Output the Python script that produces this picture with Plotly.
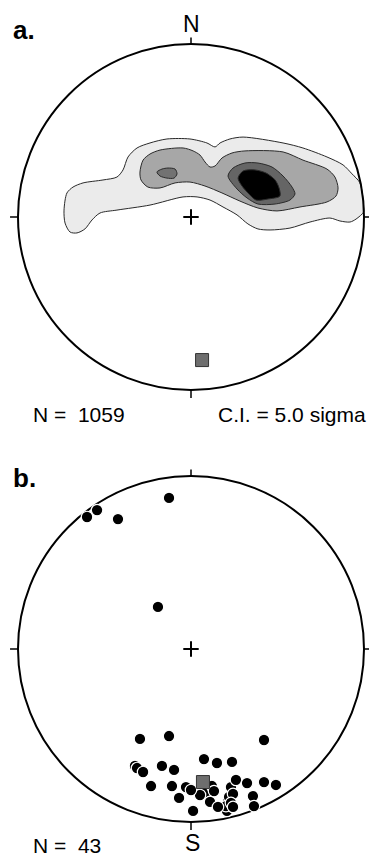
import plotly.graph_objects as go

# ---------------- Panel a: density contours (projected, unit primitive circle) ----------------
outer_x = [-0.734, -0.717, -0.682, -0.624, -0.509, -0.428, -0.393, -0.364, -0.312, -0.237, -0.139, -0.006,
           0.092, 0.139, 0.168, 0.225, 0.301, 0.532, 0.647, 0.786, 0.879, 0.931, 0.975, 0.992, 0.998, 0.999,
           0.954, 0.919, 0.861, 0.803, 0.688, 0.572, 0.457, 0.387, 0.329, 0.266, 0.185, 0.110, 0.035, -0.046,
           -0.237, -0.428, -0.526, -0.572, -0.613, -0.659, -0.699, -0.728]
outer_y = [0.040, 0.139, 0.173, 0.197, 0.214, 0.231, 0.272, 0.347, 0.399, 0.428, 0.451, 0.451,
           0.428, 0.405, 0.428, 0.451, 0.462, 0.428, 0.399, 0.347, 0.301, 0.249, 0.200, 0.125, 0.060, 0.030,
           -0.012, -0.029, -0.023, -0.006, -0.029, -0.064, -0.075, -0.069, -0.040, 0.012, 0.058, 0.098, 0.116, 0.116,
           0.069, 0.040, 0.023, -0.017, -0.069, -0.092, -0.087, -0.035]

mid_x = [-0.295, -0.277, -0.237, -0.179, -0.046, 0.012, 0.052, 0.081, 0.110, 0.139, 0.179, 0.237, 0.312,
         0.532, 0.647, 0.786, 0.832, 0.850, 0.838, 0.786, 0.630, 0.497, 0.387, 0.283, 0.179, 0.081, -0.006,
         -0.092, -0.179, -0.249, -0.289]
mid_y = [0.260, 0.329, 0.364, 0.387, 0.399, 0.382, 0.358, 0.318, 0.289, 0.295, 0.341, 0.370, 0.382,
         0.376, 0.329, 0.277, 0.231, 0.168, 0.121, 0.087, 0.058, 0.035, 0.052, 0.092, 0.139, 0.179, 0.202,
         0.197, 0.168, 0.173, 0.214]

island_x = [-0.197, -0.168, -0.133, -0.092, -0.081, -0.098, -0.139, -0.179]
island_y = [0.260, 0.277, 0.283, 0.277, 0.249, 0.225, 0.225, 0.237]

high_x = [0.214, 0.243, 0.312, 0.387, 0.468, 0.532, 0.584, 0.601, 0.572, 0.486, 0.387, 0.324, 0.266]
high_y = [0.237, 0.283, 0.312, 0.312, 0.289, 0.237, 0.173, 0.133, 0.098, 0.075, 0.075, 0.110, 0.162]

core_x = [0.272, 0.301, 0.370, 0.434, 0.486, 0.509, 0.514, 0.445, 0.376, 0.335, 0.295]
core_y = [0.225, 0.266, 0.272, 0.254, 0.214, 0.168, 0.121, 0.104, 0.098, 0.133, 0.179]

mean_a = (0.064, -0.827)
n_a = 1059
ci_text = "C.I. = 5.0 sigma"

# ---------------- Panel b: individual poles ----------------
pts_x = [-0.017, -0.029, 0.087, 0.231, 0.214, 0.208, 0.121, 0.220, 0.202, 0.052, -0.324, -0.312,
         -0.127, -0.543, -0.601, -0.422, -0.191, -0.295, -0.127, 0.422, -0.277, -0.168, -0.098,
         0.075, 0.150, 0.237, -0.231, -0.110, -0.069, 0.000, 0.012, 0.133, 0.110, 0.156, 0.260,
         0.324, 0.422, 0.491, 0.243, 0.231, 0.243, 0.358, 0.364]
pts_y = [-0.803, -0.798, -0.827, -0.798, -0.873, -0.936, -0.792, -0.855, -0.908, -0.844, -0.676, -0.688,
         0.873, 0.803, 0.763, 0.751, 0.243, -0.520, -0.503, -0.526, -0.711, -0.676, -0.699,
         -0.636, -0.659, -0.653, -0.792, -0.792, -0.861, -0.815, -0.936, -0.821, -0.884, -0.913, -0.757,
         -0.775, -0.769, -0.786, -0.838, -0.890, -0.913, -0.850, -0.908]
mean_b = (0.069, -0.769)
n_b = 43

FONT = "Liberation Sans, Arial, Helvetica, sans-serif"
W, H = 369, 858
CX, R = 191, 173  # pixel scale: 173 px per unit

fig = go.Figure()

def poly(xs, ys, color, xa, ya):
    fig.add_trace(go.Scatter(x=xs + [xs[0]], y=ys + [ys[0]], mode="lines", fill="toself",
                             fillcolor=color, line=dict(color="#2a2a2a", width=1, shape="spline", smoothing=0.8),
                             xaxis=xa, yaxis=ya, hoverinfo="skip", showlegend=False))

poly(outer_x, outer_y, "#ebebeb", "x", "y")
poly(mid_x, mid_y, "#a7a7a7", "x", "y")
poly(island_x, island_y, "#727272", "x", "y")
poly(high_x, high_y, "#656565", "x", "y")
poly(core_x, core_y, "#000000", "x", "y")

for xa, ya in (("x", "y"), ("x2", "y2")):
    fig.add_trace(go.Scatter(x=[0], y=[0], mode="markers", xaxis=xa, yaxis=ya,
                             marker=dict(symbol="cross-thin", size=11, line=dict(color="black", width=2)),
                             hoverinfo="skip", showlegend=False))

fig.add_trace(go.Scatter(x=[mean_a[0]], y=[mean_a[1]], mode="markers", xaxis="x", yaxis="y",
                         marker=dict(symbol="square", size=13, color="#6e6e6e", line=dict(color="#333333", width=1)),
                         hoverinfo="skip", showlegend=False))

fig.add_trace(go.Scatter(x=pts_x, y=pts_y, mode="markers", xaxis="x2", yaxis="y2",
                         marker=dict(symbol="circle", size=11.5, color="black", line=dict(color="white", width=1.2)),
                         hoverinfo="skip", showlegend=False))
fig.add_trace(go.Scatter(x=[mean_b[0]], y=[mean_b[1]], mode="markers", xaxis="x2", yaxis="y2",
                         marker=dict(symbol="square", size=13, color="#6e6e6e", line=dict(color="#333333", width=1)),
                         hoverinfo="skip", showlegend=False))

shapes = []
for xr, yr, layer in (("x", "y", "above"), ("x2", "y2", "below")):
    shapes.append(dict(type="circle", xref=xr, yref=yr, x0=-1, x1=1, y0=-1, y1=1,
                       line=dict(color="black", width=2), layer=layer))
    for (x0, y0, x1, y1) in ((0, 1, 0, 1.037), (0, -1, 0, -1.046), (-1, 0, -1.046, 0), (1, 0, 1.037, 0)):
        shapes.append(dict(type="line", xref=xr, yref=yr, x0=x0, y0=y0, x1=x1, y1=y1,
                           line=dict(color="black", width=1.5), layer=layer))

xr = [-CX / R, (W - CX) / R]
fig.update_layout(
    width=W, height=H, margin=dict(l=0, r=0, t=0, b=0),
    paper_bgcolor="white", plot_bgcolor="white", showlegend=False,
    xaxis=dict(domain=[0, 1], range=xr, visible=False, anchor="y"),
    yaxis=dict(domain=[0.5, 1], range=[(217 - 429) / R, 217 / R], visible=False, anchor="x"),
    xaxis2=dict(domain=[0, 1], range=xr, visible=False, anchor="y2"),
    yaxis2=dict(domain=[0, 0.5], range=[(649 - 858) / R, (649 - 429) / R], visible=False, anchor="x2"),
    shapes=shapes,
)

def ann(text, px, py, size, anchor="left", bold=False):
    fig.add_annotation(text=f"<b>{text}</b>" if bold else text, xref="paper", yref="paper",
                       x=px / W, y=1 - py / H, xanchor=anchor, yanchor="middle", showarrow=False,
                       font=dict(family=FONT, size=size, color="black"))

ann("a.", 11, 30, 26, bold=True)
ann("N", 191, 24, 23, anchor="center")
ann(f"N =\u00a0 {n_a}", 31, 414, 21)
ann(ci_text, 368, 414, 21, anchor="right")
ann("b.", 11, 478, 26, bold=True)
ann("S", 193, 843, 23, anchor="center")
ann(f"N =\u00a0 {n_b}", 31, 845, 21)

fig.write_html("out.html")
